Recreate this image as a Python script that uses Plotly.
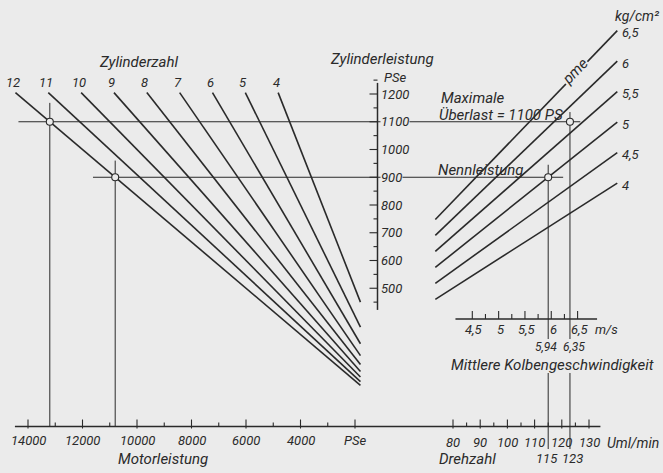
import plotly.graph_objects as go

# ---------------- data ----------------
cylinders = [12, 11, 10, 9, 8, 7, 6, 5, 4]
pme_values = [6.5, 6.0, 5.5, 5.0, 4.5, 4.0]
pme_labels = ["6,5", "6", "5,5", "5", "4,5", "4"]

motor_major = [14000, 12000, 10000, 8000, 6000, 4000, 2000]
motor_major_labels = ["14000", "12000", "10000", "8000", "6000", "4000", "PSe"]
motor_minor = [13000, 11000, 9000, 7000, 5000, 3000]

cylp_major = [500, 600, 700, 800, 900, 1000, 1100, 1200]
cylp_minor = [450, 550, 650, 750, 850, 950, 1050, 1150, 1250]

rpm_major = [80, 90, 100, 110, 120, 130]
rpm_minor = [85, 95, 105, 115, 125]

cm_major = [4.5, 5.0, 5.5, 6.0, 6.5]
cm_major_labels = ["4,5", "5", "5,5", "6", "6,5"]
cm_minor = [4.75, 5.25, 5.75, 6.25]

# operating points (rated power, maximum overload)
op_cyl_power = [900, 1100]
op_rpm = [115, 123]
op_cm = [5.94, 6.35]
op_cylinders = 12
pme_rated = 5.0
stroke = 1.55  # m

# ---------------- layout / scales ----------------
W, H = 663, 473
BG = "#ebebeb"
INK = "#2a2a2a"
FONT = "Roboto, Liberation Sans, sans-serif"
FS_TXT = 15
FS_NUM = 13

MP_X0, MP_K = 409.5, 0.02725   # motor power scale (leftwards)
CP_Y0, CP_K = 427.0, 0.2775    # cylinder power scale (upwards)
RPM_X0, RPM_K = 235.4, 2.72    # rpm scale
AXIS_Y = 426.5
CP_AXIS_X = 377.5
CM_AXIS_Y = 319.0

c_pow = op_cyl_power[0] / (pme_rated * op_rpm[0])  # p = c * pme * rpm


def xm(v):
    return MP_X0 - MP_K * v


def yc(p):
    return CP_Y0 - CP_K * p


def xr(n):
    return RPM_X0 + RPM_K * n


def xcm(c):
    return xr(c * 30.0 / stroke)


fig = go.Figure()


def seg_trace(xs, ys, width, color=INK):
    fig.add_trace(go.Scatter(x=xs, y=ys, mode="lines",
                             line=dict(color=color, width=width),
                             hoverinfo="skip", showlegend=False))


annots = []


def txt(x, y, s, size=FS_NUM, xa="center", ya="middle", bg=None, angle=0, yshift=0):
    a = dict(x=x, y=y, xref="x", yref="y", text="<i>" + s + "</i>",
             showarrow=False, xanchor=xa, yanchor=ya, textangle=angle,
             font=dict(family=FONT, size=size, color=INK), yshift=yshift,
             borderpad=0)
    if bg:
        a["bgcolor"] = bg
    annots.append(a)


# ---- cylinder-count lines ----
P_TOP = 1205
V_END = 1800
xs, ys = [], []
for n in cylinders:
    xs += [xm(n * P_TOP), xm(V_END), None]
    ys += [yc(P_TOP), yc(V_END / n), None]
    txt(xm(n * P_TOP) - 2, yc(P_TOP) - 10, str(n))
seg_trace(xs, ys, 1.6)

# ---- pme lines ----
RPM_A, RPM_B = 73.5, 140.4
xs, ys = [], []
for pm, lab in zip(pme_values, pme_labels):
    xs += [xr(RPM_A), xr(RPM_B), None]
    ys += [yc(c_pow * pm * RPM_A), yc(c_pow * pm * RPM_B), None]
    txt(xr(RPM_B) + 4, yc(c_pow * pm * RPM_B) + 2, lab, xa="left")
seg_trace(xs, ys, 1.6)

# ---- reference (operating) lines ----
ref_x, ref_y = [], []
h_left = [11615, 14350]     # motor power where lines start
h_right = [120.5, 126.8]    # rpm where lines end
for p, vl, rr in zip(op_cyl_power, h_left, h_right):
    ref_x += [xm(vl), xr(rr), None]
    ref_y += [yc(p), yc(p), None]
v_top = [960, 1168]
for p, pt in zip(op_cyl_power, v_top):
    v = op_cylinders * p
    ref_x += [xm(v), xm(v), None]
    ref_y += [yc(pt), AXIS_Y, None]
r_top = [945, 1135]
for r, pt in zip(op_rpm, r_top):
    ref_x += [xr(r), xr(r), None, xr(r), xr(r), None]
    ref_y += [yc(pt), 339, None, 373, 449, None]
seg_trace(ref_x, ref_y, 1.0)

# ---- axes ----
ax_x, ax_y = [], []
ax_x += [xm(14480), xr(134.2), None]
ax_y += [AXIS_Y, AXIS_Y, None]
ax_x += [CP_AXIS_X, CP_AXIS_X, None]
ax_y += [yc(1240), yc(422), None]
ax_x += [xcm(4.18), xcm(6.87), None]
ax_y += [CM_AXIS_Y, CM_AXIS_Y, None]
seg_trace(ax_x, ax_y, 1.5)

tk_x, tk_y = [], []
for v in motor_major:
    tk_x += [xm(v), xm(v), None]
    tk_y += [AXIS_Y - 7, AXIS_Y + 2, None]
for v in motor_minor:
    tk_x += [xm(v), xm(v), None]
    tk_y += [AXIS_Y - 4, AXIS_Y, None]
for r in rpm_major:
    tk_x += [xr(r), xr(r), None]
    tk_y += [AXIS_Y - 7, AXIS_Y + 2, None]
for r in rpm_minor:
    tk_x += [xr(r), xr(r), None]
    tk_y += [AXIS_Y - 4, AXIS_Y, None]
for p in cylp_major:
    tk_x += [CP_AXIS_X - 8, CP_AXIS_X, None]
    tk_y += [yc(p), yc(p), None]
for p in cylp_minor:
    tk_x += [CP_AXIS_X - 4, CP_AXIS_X, None]
    tk_y += [yc(p), yc(p), None]
for c in cm_major:
    tk_x += [xcm(c), xcm(c), None]
    tk_y += [CM_AXIS_Y - 8, CM_AXIS_Y, None]
for c in cm_minor:
    tk_x += [xcm(c), xcm(c), None]
    tk_y += [CM_AXIS_Y - 5, CM_AXIS_Y, None]
seg_trace(tk_x, tk_y, 1.1)

# ---- circles at the operating points ----
cx, cy = [], []
for p, r in zip(op_cyl_power, op_rpm):
    cx += [xm(op_cylinders * p), xr(r)]
    cy += [yc(p), yc(p)]
fig.add_trace(go.Scatter(x=cx, y=cy, mode="markers",
                         marker=dict(symbol="circle", size=7, color=BG,
                                     line=dict(color=INK, width=1.1)),
                         hoverinfo="skip", showlegend=False))

# ---- tick labels ----
for v, lab in zip(motor_major, motor_major_labels):
    txt(xm(v), AXIS_Y + 14, lab)
for r in rpm_major:
    txt(xr(r), AXIS_Y + 16, str(r))
txt(xr(rpm_major[-1]) + 17, AXIS_Y + 16, "Uml/min", size=14, xa="left")
for p in cylp_major:
    bg = BG if p in op_cyl_power else None
    txt(CP_AXIS_X + 2, yc(p), str(p), xa="left", bg=bg)
for c, lab in zip(cm_major, cm_major_labels):
    txt(xcm(c) + 2, CM_AXIS_Y + 10, lab)
txt(xcm(cm_major[-1]) + 16, CM_AXIS_Y + 10, "m/s", xa="left")
for c, dx in zip(op_cm, [-2, 4]):
    txt(xcm(c) + dx, CM_AXIS_Y + 28, ("%.2f" % c).replace(".", ","), size=12)
for r, dx in zip(op_rpm, [-1, 3]):
    txt(xr(r) + dx, AXIS_Y + 32, str(r))

# ---- titles ----
txt(139, 62, "Zylinderzahl", size=FS_TXT)
txt(382, 59, "Zylinderleistung", size=FS_TXT)
txt(395, 77.5, "PSe", size=13)
txt(440, 98, "Maximale", size=FS_TXT, xa="left")
txt(438, 115, "Überlast = %d PS" % op_cyl_power[1], size=FS_TXT, xa="left")
txt(437, 170, "Nennleistung", size=FS_TXT, xa="left")
txt(xm(8000) - 29, AXIS_Y + 32, "Motorleistung", size=FS_TXT)
txt(467, AXIS_Y + 32, "Drehzahl", size=FS_TXT)
txt(552, 365, "Mittlere Kolbengeschwindigkeit", size=FS_TXT)
txt(614, 16, "kg/cm²", size=14, xa="left")
r_lab = 125.0
txt(xr(r_lab), yc(c_pow * pme_values[0] * r_lab), "pme", size=FS_TXT,
    bg=BG, angle=-46, yshift=3)

fig.update_layout(
    width=W, height=H,
    margin=dict(l=0, r=0, t=0, b=0),
    paper_bgcolor=BG, plot_bgcolor=BG,
    xaxis=dict(range=[0, W], visible=False, fixedrange=True),
    yaxis=dict(range=[H, 0], visible=False, fixedrange=True),
    annotations=annots,
    showlegend=False,
)

fig.write_html("out.html", config={"displayModeBar": False},
               post_script="document.body.style.margin='0';")
